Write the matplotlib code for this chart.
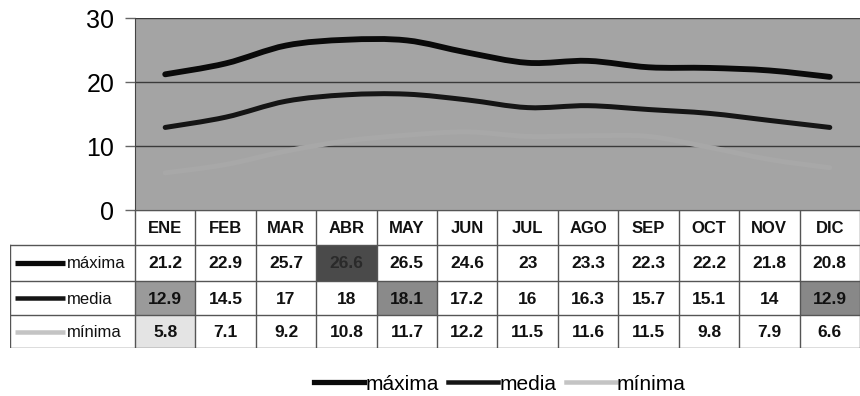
import matplotlib
matplotlib.use("Agg")
import matplotlib.pyplot as plt
from matplotlib.lines import Line2D
from matplotlib.path import Path
from matplotlib.patches import PathPatch

plt.rcParams['font.family'] = ['Liberation Sans', 'DejaVu Sans']

months = ["ENE", "FEB", "MAR", "ABR", "MAY", "JUN", "JUL", "AGO", "SEP", "OCT", "NOV", "DIC"]
maxima = [21.2, 22.9, 25.7, 26.6, 26.5, 24.6, 23, 23.3, 22.3, 22.2, 21.8, 20.8]
media = [12.9, 14.5, 17, 18, 18.1, 17.2, 16, 16.3, 15.7, 15.1, 14, 12.9]
minima = [5.8, 7.1, 9.2, 10.8, 11.7, 12.2, 11.5, 11.6, 11.5, 9.8, 7.9, 6.6]
series_names = ["máxima", "media", "mínima"]
yticks = [0, 10, 20, 30]

W, H = 860, 396
fig = plt.figure(figsize=(W / 100, H / 100), dpi=100)

def fx(px):
    return px / W

def fy(py):
    return 1 - py / H

def smooth_path(xs, ys):
    """Smoothed line (Catmull-Rom as cubic Bezier) through the data points."""
    pts = list(zip(xs, ys))
    verts = [pts[0]]
    codes = [Path.MOVETO]
    n = len(pts)
    for i in range(n - 1):
        p0 = pts[i - 1] if i > 0 else pts[i]
        p1 = pts[i]
        p2 = pts[i + 1]
        p3 = pts[i + 2] if i + 2 < n else pts[i + 1]
        c1 = (p1[0] + (p2[0] - p0[0]) / 6, p1[1] + (p2[1] - p0[1]) / 6)
        c2 = (p2[0] - (p3[0] - p1[0]) / 6, p2[1] - (p3[1] - p1[1]) / 6)
        verts += [c1, c2, p2]
        codes += [Path.CURVE4] * 3
    return Path(verts, codes)

ax_left, ax_right, ax_top, ax_bot = 135, 860, 18, 210
ax = fig.add_axes([fx(ax_left), fy(ax_bot), fx(ax_right - ax_left), fy(ax_top) - fy(ax_bot)])
x = list(range(len(months)))
ax.set_xlim(-0.5, len(months) - 0.5)
ax.set_ylim(0, 30)
bg = "#a4a4a4"
ax.set_facecolor(bg)
for yv in yticks[1:]:
    ax.axhline(yv, color="#3a3a3a", lw=1.0, zorder=1)
colors = ["#0a0a0a", "#151515", "#a8a8a8"]
sample_colors = ["#0a0a0a", "#151515", "#c4c4c4"]
widths = [4.2, 3.6, 3.6]
for vals, c, w in zip([maxima, media, minima], colors, widths):
    ax.add_patch(PathPatch(smooth_path(x, vals), facecolor="none", edgecolor=c, lw=w,
                           capstyle="round", zorder=3))
ax.set_xticks([])
ax.set_yticks(yticks)
ax.set_yticklabels([str(v) for v in yticks], fontsize=18)
ax.tick_params(axis="y", length=7, width=1, color="#666666", pad=8, direction="out")
for side in ["top", "right"]:
    ax.spines[side].set_visible(False)
ax.spines["left"].set_color("#444444")
ax.spines["bottom"].set_color("#333333")

# table axes
unit = (ax_right - ax_left) / len(months)
tab_left, tab_top, tab_bot = 10, 210, 348
tx = fig.add_axes([fx(tab_left), fy(tab_bot), fx(W - tab_left), fy(tab_top) - fy(tab_bot)])
x0 = -0.5 - (ax_left - tab_left) / unit
tx.set_xlim(x0, -0.5 + (W - ax_left) / unit)
row_edges = [210, 245, 281, 315, 348]
tx.set_ylim(tab_bot, tab_top)
tx.axis("off")

lc = "#555555"
tx.plot([-0.5, 11.5], [row_edges[0]] * 2, color=lc, lw=1)
for r in row_edges[1:]:
    tx.plot([x0, 11.5], [r, r], color=lc, lw=1)
tx.plot([x0, x0], [row_edges[1], row_edges[-1]], color=lc, lw=1)
for i in range(len(months) + 1):
    xe = -0.5 + i
    tx.plot([xe, xe], [row_edges[0], row_edges[-1]], color=lc, lw=1)

# highlighted cells (scan artefacts)
highlights = [(0, 3, "#4a4a4a"), (1, 0, "#9a9a9a"), (1, 4, "#8a8a8a"), (1, 11, "#888888"), (2, 0, "#e4e4e4")]
hl = {(r, c): col for r, c, col in highlights}
for (r, c), col in hl.items():
    tx.fill_between([c - 0.5, c + 0.5], row_edges[r + 1], row_edges[r + 2], color=col, lw=0, zorder=0)

for i, m in enumerate(months):
    tx.text(i, (row_edges[0] + row_edges[1]) / 2 + 1, m, ha="center", va="center",
            fontsize=12, fontweight="bold", color="#111111")
for r, vals in enumerate([maxima, media, minima]):
    yc = (row_edges[r + 1] + row_edges[r + 2]) / 2
    for i, v in enumerate(vals):
        tcol = "#2a2a2a" if hl.get((r, i)) == "#4a4a4a" else "#111111"
        tx.text(i, yc + 1, f"{v:g}", ha="center", va="center", fontsize=12.5,
                fontweight="bold", color=tcol)
    tx.plot([x0 + 5 / unit, x0 + 55 / unit], [yc, yc], color=sample_colors[r], lw=widths[r] * 0.9,
            solid_capstyle="butt")
    tx.text(x0 + 57 / unit, yc + 1, series_names[r], ha="left", va="center", fontsize=12,
            color="#111111")

handles = [Line2D([0], [0], color=c, lw=w * 0.9) for c, w in zip(sample_colors, widths)]
fig.legend(handles, series_names, loc="center", bbox_to_anchor=(fx(500), fy(384)), ncol=3,
           frameon=False, fontsize=15, handlelength=2.4, handletextpad=0.05, columnspacing=0.45,
           borderpad=0, borderaxespad=0)

fig.savefig("out.png", dpi=100)
